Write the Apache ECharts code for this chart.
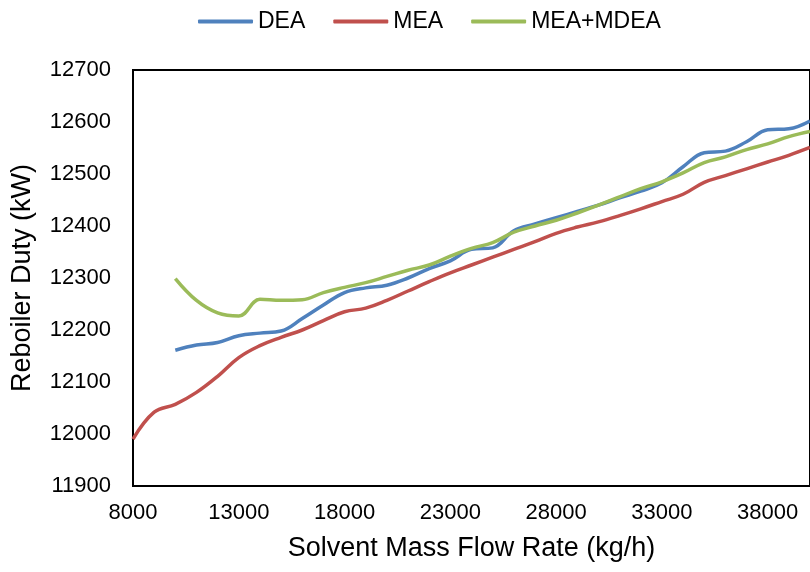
<!DOCTYPE html>
<html>
<head>
<meta charset="UTF-8">
<title>Reboiler Duty</title>
<script src="https://cdn.jsdelivr.net/npm/echarts@6/dist/echarts.min.js"></script>
<style>
	html, body { margin: 0; padding: 0; background: #fff; }
	#main { width: 810px; height: 572px; }
</style>
</head>
<body>
<div id="main"></div>
<script type="text/javascript">
	// flow rates (kg/h)
	var flowDEA = [10000, 11000, 12000, 13000, 14000, 15000, 16000, 17000, 18000, 19000, 20000,
		21000, 22000, 23000, 24000, 25000, 26000, 27000, 28000, 29000, 30000,
		31000, 32000, 33000, 34000, 35000, 36000, 37000, 38000, 39000, 40000];
	var flowMEA = [8000, 9000, 10000, 11000, 12000, 13000, 14000, 15000, 16000, 17000, 18000, 19000, 20000,
		21000, 22000, 23000, 24000, 25000, 26000, 27000, 28000, 29000, 30000,
		31000, 32000, 33000, 34000, 35000, 36000, 37000, 38000, 39000, 40000];
	var flowMix = flowDEA;

	// reboiler duty (kW)
	var dutyDEA = [12161, 12171, 12176, 12189, 12194, 12198, 12222, 12248, 12272, 12281, 12286,
		12300, 12318, 12333, 12355, 12358, 12391, 12404, 12416, 12428, 12440,
		12454, 12467, 12483, 12514, 12541, 12544, 12562, 12585, 12587, 12602];
	var dutyMEA = [11990, 12042, 12057, 12080, 12111, 12147, 12170, 12186, 12200, 12218, 12235, 12242, 12257,
		12275, 12293, 12310, 12325, 12340, 12355, 12370, 12386, 12398, 12408,
		12420, 12433, 12447, 12461, 12484, 12497, 12510, 12523, 12536, 12551];
	var dutyMix = [12299, 12257, 12233, 12227, 12259, 12257, 12258, 12272, 12282, 12291, 12303,
		12315, 12325, 12342, 12357, 12368, 12388, 12400, 12411, 12425, 12440,
		12456, 12472, 12485, 12502, 12522, 12533, 12547, 12558, 12572, 12582];

	function pairs(xs, ys) {
		var out = [];
		for (var i = 0; i < xs.length; i++) out.push([xs[i], ys[i]]);
		return out;
	}

	var font = 'Liberation Sans, Arial, sans-serif';
	var echart = echarts.init(document.getElementById('main'));

	var option = {
		animation: false,
		color: ['#4F81BD', '#C0504D', '#9BBB59'],
		legend: {
			left: 193,
			top: 5,
			itemWidth: 55,
			itemHeight: 4,
			itemGap: 28,
			icon: 'roundRect',
			textStyle: { fontFamily: font, fontSize: 23, color: '#000' },
			data: ['DEA', 'MEA', 'MEA+MDEA']
		},
		grid: {
			left: 133,
			top: 70,
			bottom: 86,
			right: -7,
			show: true,
			borderColor: '#000',
			borderWidth: 2
		},
		xAxis: {
			type: 'value',
			min: 8000,
			max: 40000,
			interval: 5000,
			name: 'Solvent Mass Flow Rate (kg/h)',
			nameLocation: 'middle',
			nameGap: 49,
			nameTextStyle: { fontFamily: font, fontSize: 27, color: '#000' },
			axisLine: { show: true, lineStyle: { color: '#000', width: 2 } },
			axisTick: { show: false },
			splitLine: { show: false },
			axisLabel: {
				showMaxLabel: false,
				margin: 16,
				formatter: function (v) { return String(v); },
				fontFamily: font, fontSize: 22, color: '#000'
			}
		},
		yAxis: {
			type: 'value',
			min: 11900,
			max: 12700,
			interval: 100,
			name: 'Reboiler Duty (kW)',
			nameLocation: 'middle',
			nameGap: 97,
			nameTextStyle: { fontFamily: font, fontSize: 27, color: '#000' },
			axisLine: { show: true, lineStyle: { color: '#000', width: 2 } },
			axisTick: { show: false },
			splitLine: { show: false },
			axisLabel: {
				margin: 22,
				formatter: function (v) { return String(v); },
				fontFamily: font, fontSize: 22, color: '#000'
			}
		},
		series: [
			{ name: 'DEA', type: 'line', smooth: 0.4, symbol: 'none', lineStyle: { width: 3.5 }, data: pairs(flowDEA, dutyDEA) },
			{ name: 'MEA', type: 'line', smooth: 0.4, symbol: 'none', lineStyle: { width: 3.5 }, data: pairs(flowMEA, dutyMEA) },
			{ name: 'MEA+MDEA', type: 'line', smooth: 0.4, symbol: 'none', lineStyle: { width: 3.5 }, data: pairs(flowMix, dutyMix) }
		]
	};

	echart.setOption(option, true);
</script>
</body>
</html>
